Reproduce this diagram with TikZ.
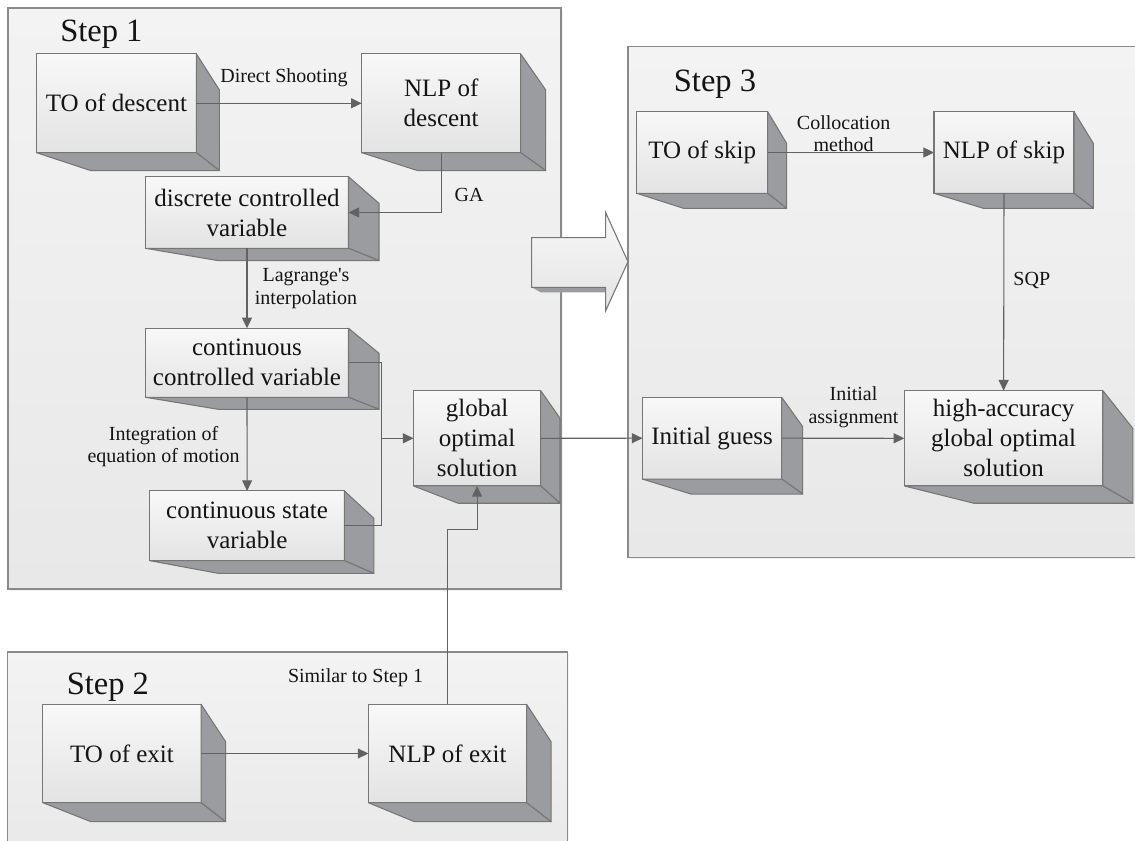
\documentclass[tikz,border=0pt]{standalone}
\usepackage{fontspec}
\setmainfont{Liberation Serif}
\usetikzlibrary{arrows.meta,calc,shadows}
\definecolor{frametop}{HTML}{F3F3F3}
\definecolor{framebot}{HTML}{E8E8E8}
\definecolor{framedraw}{HTML}{8A8A8A}
\definecolor{boxtop}{HTML}{F8F8F8}
\definecolor{boxbot}{HTML}{E3E3E3}
\definecolor{boxdraw}{HTML}{767676}
\definecolor{facecol}{HTML}{9B9CA0}
\definecolor{conncol}{HTML}{626262}
\definecolor{txt}{HTML}{141414}
\newcommand\bxfont{\fontsize{18.75}{22.5}\selectfont}
\newcommand\lbfont{\fontsize{15}{17}\selectfont}
\newcommand\stfont{\fontsize{24.4}{29}\selectfont}
\newcommand\boxfaces[5]{%
  \path[face] (#1.north east) -- ++(#2,#3) -- ($(#1.south east)+(#2,#4)$) -- (#1.south east) -- cycle;
  \path[face] (#1.south west) -- ++(#5,#4) -- ($(#1.south east)+(#2,#4)$) -- (#1.south east) -- cycle;
}
\tikzset{
  x=0.75pt, y=-0.75pt,
  sz/.style 2 args={minimum width=#1*0.75pt, minimum height=#2*0.75pt},
  frame/.style={draw=framedraw, line width=0.9pt, top color=frametop, bottom color=framebot,
    anchor=north west, inner sep=0, outer sep=0,
    drop shadow={shadow xshift=1.5pt, shadow yshift=-1.5pt, fill=black!10}},
  box/.style={draw=boxdraw, line width=0.8pt, top color=boxtop, bottom color=boxbot,
    inner sep=0, outer sep=0, align=center, font=\bxfont, text=txt},
  face/.style={draw=boxdraw, line width=0.8pt, fill=facecol, line join=round},
  conn/.style={draw=conncol, line width=0.8pt, -{Triangle[length=8pt,width=7.5pt]}},
  plain/.style={draw=conncol, line width=0.8pt},
  lbl/.style={font=\lbfont, text=txt, align=center, inner sep=0},
  steplbl/.style={font=\stfont, text=txt, inner sep=0, anchor=base west},
  bigarrow/.style={draw=boxdraw, line width=0.8pt, top color=boxtop, bottom color=boxbot, line join=miter}
}
\begin{document}
\begin{tikzpicture}
\useasboundingbox (0,0) rectangle (1135,841);
\clip (0,0) rectangle (1135,841);

% frames
\node[frame, sz={553}{581}] (f1) at (8,8) {};
\node[frame, sz={560}{220}] (f2) at (7.3,652) {};
\node[frame, sz={520}{510.6}] (f3) at (628,46.7) {};

% big arrow
\fill[facecol] (531.7,287.3) -- (541,292.5) -- (605.7,292.5) -- (605.7,287.3) -- cycle;
\draw[bigarrow] (531.7,237.7) -- (605.7,237.7) -- (605.7,212.7) -- (628,261.7)
  -- (605.7,310.7) -- (605.7,287.3) -- (531.7,287.3) -- cycle;

% step labels
\node[steplbl] (s1) at (60,41.7) {Step 1};
\node[steplbl] (s2) at (66.5,694) {Step 2};
\node[steplbl] (s3) at (673.6,91.7) {Step 3};

% boxes
\node[box, sz={160}{98.7}] (tod) at (116.4,103.3) {TO of descent};
\boxfaces{tod}{23}{36}{18}{54.5}
\node[box, sz={159}{98.7}] (nlpd) at (441.2,103.3) {NLP of\\descent};
\boxfaces{nlpd}{25}{36}{18}{56}
\node[box, sz={203}{71.6}] (dcv) at (247,212.5) {discrete controlled\\variable};
\boxfaces{dcv}{30.5}{26.7}{12.3}{72.5}
\node[box, sz={203}{69}] (ccv) at (247,362.8) {continuous\\controlled variable};
\boxfaces{ccv}{30.5}{25}{12}{72.7}
\node[box, sz={194.6}{69.7}] (csv) at (247.1,525.8) {continuous state\\variable};
\boxfaces{csv}{29.4}{27.3}{12.7}{68.4}
\node[box, sz={127.2}{95.3}] (gos) at (477.1,438.3) {global\\optimal\\solution};
\boxfaces{gos}{19.3}{27.6}{17.3}{44.7}
\node[box, sz={130.9}{81.6}] (tos) at (702.2,152.5) {TO of skip};
\boxfaces{tos}{19}{31.7}{15}{46.7}
\node[box, sz={140}{81.6}] (nlps) at (1004,152.5) {NLP of skip};
\boxfaces{nlps}{19.3}{31.7}{15}{49.3}
\node[box, sz={139.2}{81.7}] (ig) at (712.1,438.2) {Initial guess};
\boxfaces{ig}{21}{29.3}{15}{48.5}
\node[box, sz={198.5}{95.3}] (hags) at (1003.6,438.3) {high-accuracy\\global optimal\\solution};
\boxfaces{hags}{30}{37.7}{17.3}{69.5}
\node[box, sz={158.1}{98.4}] (toe) at (122,753.5) {TO of exit};
\boxfaces{toe}{24.5}{37.3}{19}{48}
\node[box, sz={158.1}{98.4}] (nlpe) at (447.5,753.5) {NLP of exit};
\boxfaces{nlpe}{24.5}{37.4}{19}{46}

% connectors
\coordinate (jx) at (381.8,0);
\coordinate (bend) at (0,529.3);
\draw[conn] (tod.east) -- (nlpd.west);
\draw[conn] (nlpd.south) |- (dcv.east);
\draw[conn] (dcv.south) -- (ccv.north);
\draw[conn] (ccv.south) -- (csv.north);
\draw[plain] (ccv.east) -- (ccv.east -| jx) -- (csv.east -| jx) -- (csv.east);
\draw[conn] (jx |- gos.west) -- (gos.west);
\draw[conn] (gos.east) -- (ig.west);
\draw[conn] (ig.east) -- (hags.west);
\draw[conn] (tos.east) -- (nlps.west);
\draw[conn] (nlps.south) -- (hags.north);
\draw[conn] (toe.east) -- (nlpe.west);
\draw[conn] (nlpe.north) -- (nlpe.north |- bend) -| (gos.south);

% labels
\node[lbl, anchor=base] (l1) at (284,83) {Direct Shooting};
\node[lbl, anchor=base] (l2) at (469,201.7) {GA};
\node[lbl] (l3) at (306,288.7) {Lagrange\textquotesingle s\\interpolation};
\node[lbl] (l4) at (163.6,446.7) {Integration of\\equation of motion};
\node[lbl] (l5) at (843.6,133.7) {Collocation\\method};
\node[lbl, anchor=base] (l6) at (1031.8,286) {SQP};
\node[lbl] (l7) at (853.5,407.3) {Initial\\assignment};
\node[lbl, anchor=base] (l8) at (355.5,682.3) {Similar to Step 1};
\end{tikzpicture}
\end{document}
